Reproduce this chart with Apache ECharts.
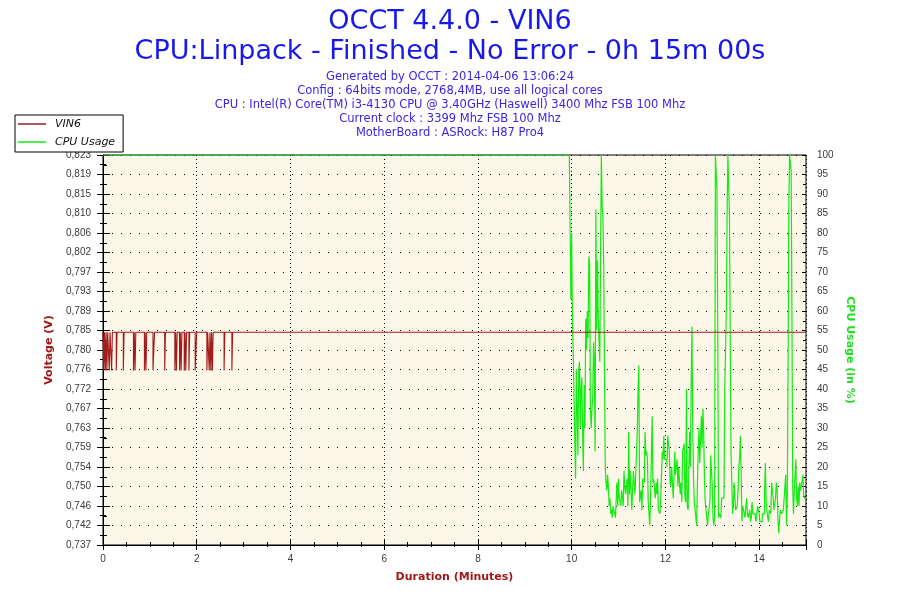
<!DOCTYPE html>
<html><head><meta charset="utf-8">
<script src="https://cdn.jsdelivr.net/npm/echarts@6/dist/echarts.min.js"></script>
<style>html,body{margin:0;padding:0;background:#fff}#c{width:900px;height:600px}</style>
</head><body><div id="c"></div>
<script>
const titleLines = ['OCCT 4.4.0 - VIN6', 'CPU:Linpack - Finished - No Error - 0h 15m 00s'];
const infoLines = [
  'Generated by OCCT : 2014-04-06 13:06:24',
  'Config : 64bits mode, 2768,4MB, use all logical cores',
  'CPU : Intel(R) Core(TM) i3-4130 CPU @ 3.40GHz (Haswell) 3400 Mhz FSB 100 Mhz',
  'Current clock : 3399 Mhz FSB 100 Mhz',
  'MotherBoard : ASRock: H87 Pro4'
];
const seriesNames = ['VIN6', 'CPU Usage'];
const axisNames = { volt: 'Voltage (V)', cpu: 'CPU Usage (in %)', time: 'Duration (Minutes)' };

// left axis tick labels (from bottom to top)
const voltLabels = ['0,737','0,742','0,746','0,750','0,754','0,759','0,763','0,767','0,772','0,776',
  '0,780','0,785','0,789','0,793','0,797','0,802','0,806','0,810','0,815','0,819','0,823'];
const voltMin = 0.7372, voltStep = 0.0043, voltMax = 0.8232;

// VIN6 samples: time (s) where the reading changes, and the reading (V)
const voltSec = [
  0, 1, 2, 3, 4, 5, 6, 8, 9, 11,
  12, 17, 18, 26, 27, 39, 40, 41, 42, 53,
  54, 55, 56, 64, 66, 79, 80, 92, 93, 94,
  95, 98, 99, 100, 101, 104, 105, 106, 107, 110,
  111, 118, 120, 133, 134, 136, 137, 138, 139, 140,
  141, 155, 156, 165, 166, 900];
const voltVal = [
  0.7841, 0.7757, 0.7841, 0.7757, 0.7841, 0.7757, 0.7841, 0.7757, 0.7841, 0.7757,
  0.7841, 0.7757, 0.7841, 0.7757, 0.7841, 0.7757, 0.7841, 0.7757, 0.7841, 0.7757,
  0.7841, 0.7757, 0.7841, 0.7757, 0.7841, 0.7757, 0.7841, 0.7757, 0.7841, 0.7757,
  0.7841, 0.7757, 0.7841, 0.7757, 0.7841, 0.7757, 0.7841, 0.7757, 0.7841, 0.7757,
  0.7841, 0.7757, 0.7841, 0.7757, 0.7841, 0.7757, 0.7841, 0.7757, 0.7841, 0.7757,
  0.7841, 0.7757, 0.7841, 0.7757, 0.7841, 0.7841];

// CPU usage samples: time (s) and usage (%)
const cpuSec = [0,597,598,599,600,601,602,603,604,605,606,607,608,609,610,611,612,613,614,615,616,617,618,619,
  620,621,622,623,624,625,626,627,628,629,630,631,632,633,634,635,636,637,638,639,640,641,642,643,644,645,646,
  647,648,649,650,651,652,653,654,656,658,659,660,661,663,664,666,667,668,669,671,672,673,674,675,677,678,679,
  681,682,684,685,686,687,689,690,691,693,694,695,696,697,698,700,701,703,704,705,707,708,709,710,711,713,714,
  716,717,718,719,721,722,723,725,726,727,728,730,731,732,733,735,736,737,739,740,741,742,744,745,746,747,748,
  749,751,752,753,754,755,756,757,758,760,761,762,763,764,766,767,768,769,770,771,772,773,774,775,777,778,780,
  781,782,783,784,785,786,787,788,789,791,792,794,795,796,798,799,800,801,802,803,804,806,807,808,809,810,812,
  813,814,815,816,817,818,819,820,822,823,824,825,826,828,829,830,831,832,833,835,836,837,838,840,841,843,844,
  846,847,848,849,851,852,853,855,856,858,859,861,862,863,864,865,867,869,871,872,874,875,876,877,878,879,880,
  881,882,883,884,885,887,888,889,890,891,892,893,894,896,897,898,900];
const cpuVal = [100,100,81,63,80,57,50,38,27,17,45,36,23,45,47,30,40,43,29,19,41,30,58,50,
  60,53,74,72,35,30,35,38,52,47,24,86,55,73,58,58,47,75,100,87,84,72,45,20,16,14,18,
  15,10,12,8,9,7,10,9,7,16,10,17,12,10,14,10,19,15,13,17,10,29,13,19,9,14,19,
  13,18,29,40,46,11,14,9,17,16,29,23,24,22,11,5,12,33,16,17,12,16,13,17,9,8,12,
  24,22,28,22,22,20,28,24,16,15,20,12,17,24,18,22,15,20,13,16,11,24,26,12,11,40,10,
  9,29,20,41,56,30,17,11,9,5,16,24,30,21,33,25,35,29,17,11,9,7,5,8,11,23,15,
  7,5,7,100,100,91,55,7,8,7,12,12,14,40,60,85,100,100,85,53,24,8,10,16,12,9,10,
  14,20,22,28,18,6,10,9,7,10,12,8,7,9,6,7,11,8,8,7,6,6,10,8,6,6,8,
  8,14,21,11,7,6,9,8,16,12,9,12,16,15,7,3,9,8,9,12,18,5,12,42,87,100,100,
  96,59,15,8,14,22,12,10,15,10,16,14,15,18,13,12,12];

const FONT = 'DejaVu Sans';
const TICKFONT = 'Liberation Sans';
const voltData = voltSec.map((s, i) => [s / 60, voltVal[i]]);
const cpuData = cpuSec.map((s, i) => [s / 60, cpuVal[i]]);

const dotH = { show: true, lineStyle: { color: '#000', width: 1, type: [1, 8] } };
const dotV = { show: true, lineStyle: { color: '#000', width: 1, type: [1, 3] } };
const lbl = { color: '#3a3a3a', fontSize: 10, fontFamily: TICKFONT };

const titles = [
  { text: titleLines[0], left: 'center', top: 7, padding: 0,
    textStyle: { fontSize: 27, fontWeight: 'normal', color: '#1818ea', fontFamily: FONT, lineHeight: 30 } },
  { text: titleLines[1], left: 'center', top: 37, padding: 0,
    textStyle: { fontSize: 27, fontWeight: 'normal', color: '#1818ea', fontFamily: FONT, lineHeight: 30 } }
].concat(infoLines.map((t, i) => ({
  text: t, left: 'center', top: 70 + i * 14, padding: 0,
  textStyle: { fontSize: 11.5, fontWeight: 'normal', color: '#3c24e4', fontFamily: FONT, lineHeight: 14 }
})));

const chart = echarts.init(document.getElementById('c'), null, { renderer: 'canvas' });
chart.setOption({
  animation: false,
  backgroundColor: '#fff',
  title: titles,
  legend: {
    data: seriesNames, orient: 'vertical', left: 15, top: 115,
    backgroundColor: '#fff', borderColor: '#000', borderWidth: 1, borderRadius: 0,
    padding: [2, 8, 3, 3], itemGap: 4, itemWidth: 28, itemHeight: 1.5, icon: 'rect',
    textStyle: { fontSize: 11, fontStyle: 'italic', color: '#111', fontFamily: FONT, lineHeight: 14, padding: [0, 0, 0, 4] }
  },
  grid: { left: 103, right: 94, top: 155, bottom: 55, show: true, backgroundColor: '#fcf7e9', borderColor: '#000', borderWidth: 1 },
  xAxis: [
    { type: 'value', min: 0, max: 15, interval: 2, position: 'bottom',
      name: axisNames.time, nameLocation: 'middle', nameGap: 27,
      nameTextStyle: { color: '#a01818', fontWeight: 'bold', fontSize: 11, fontFamily: FONT },
      axisLine: { show: true, lineStyle: { color: '#000', width: 1 } },
      axisTick: { show: true, length: 5, lineStyle: { color: '#000' } },
      minorTick: { show: true, splitNumber: 4, length: 2, lineStyle: { color: '#000' } },
      axisLabel: Object.assign({ margin: 9, showMaxLabel: false }, lbl),
      splitLine: dotV },
    { type: 'value', min: 0, max: 15, interval: 2, position: 'bottom',
      axisLine: { show: false }, axisLabel: { show: false }, splitLine: { show: false },
      axisTick: { show: true, inside: true, length: 6, lineStyle: { color: '#000' } },
      minorTick: { show: true, splitNumber: 4, length: 3, lineStyle: { color: '#000' } } }
  ],
  yAxis: [
    { type: 'value', min: voltMin, max: voltMax, interval: voltStep, position: 'left',
      name: axisNames.volt, nameLocation: 'middle', nameGap: 44,
      nameTextStyle: { color: '#a01818', fontWeight: 'bold', fontSize: 11, fontFamily: FONT },
      axisLine: { show: true, lineStyle: { color: '#000', width: 1 } },
      axisTick: { show: true, length: 6, lineStyle: { color: '#000' } },
      minorTick: { show: true, splitNumber: 2, length: 3, lineStyle: { color: '#000' } },
      axisLabel: Object.assign({ margin: 12,
        formatter: v => voltLabels[Math.round((v - voltMin) / voltStep)] || '' }, lbl),
      splitLine: { show: false } },
    { type: 'value', min: 0, max: 100, interval: 5, position: 'right',
      name: axisNames.cpu, nameLocation: 'middle', nameGap: 36, nameRotate: -90,
      nameTextStyle: { color: '#22dd22', fontWeight: 'bold', fontSize: 11, fontFamily: FONT },
      axisLine: { show: true, lineStyle: { color: '#000', width: 1 } },
      axisTick: { show: true, length: 7, lineStyle: { color: '#000' } },
      minorTick: { show: true, splitNumber: 2, length: 4, lineStyle: { color: '#000' } },
      axisLabel: Object.assign({ margin: 11 }, lbl),
      splitLine: dotH },
    { type: 'value', min: voltMin, max: voltMax, interval: voltStep, position: 'left',
      axisLine: { show: false }, axisLabel: { show: false }, splitLine: { show: false },
      axisTick: { show: true, inside: true, length: 7, lineStyle: { color: '#000' } },
      minorTick: { show: true, splitNumber: 2, length: 3, lineStyle: { color: '#000' } } },
    { type: 'value', min: 0, max: 100, interval: 5, position: 'right',
      axisLine: { show: false }, axisLabel: { show: false }, splitLine: { show: false },
      axisTick: { show: true, inside: true, length: 4, lineStyle: { color: '#000' } },
      minorTick: { show: true, splitNumber: 2, length: 3, lineStyle: { color: '#000' } } }
  ],
  series: [
    { name: seriesNames[1], type: 'line', xAxisIndex: 0, yAxisIndex: 1, data: cpuData, step: 'end',
      showSymbol: false, symbol: 'none', lineStyle: { color: '#12ec12', width: 1.2 }, itemStyle: { color: '#12ec12' } },
    { name: seriesNames[0], type: 'line', xAxisIndex: 0, yAxisIndex: 0, data: voltData, step: 'end',
      showSymbol: false, symbol: 'none', lineStyle: { color: '#a31b1b', width: 1.1 }, itemStyle: { color: '#a31b1b' } }
  ]
});
</script>
</body></html>
